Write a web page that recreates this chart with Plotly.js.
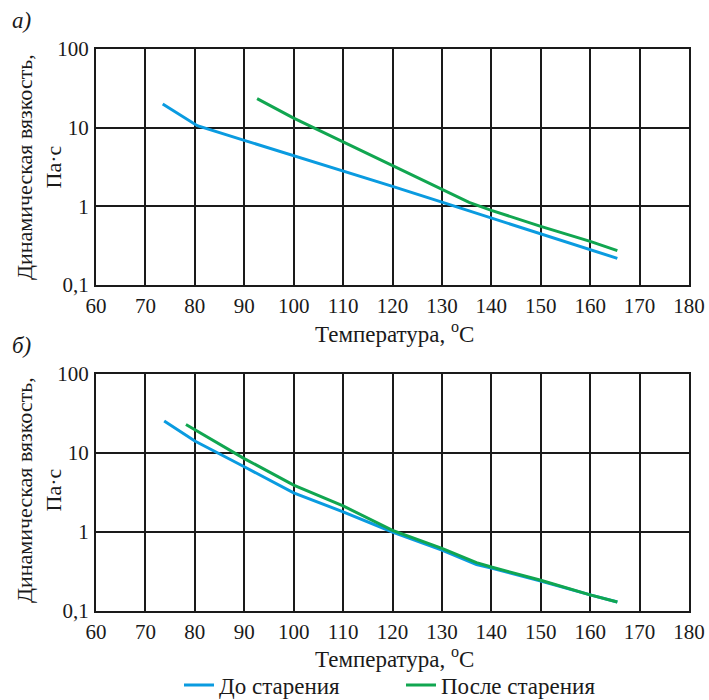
<!DOCTYPE html>
<html>
<head>
<meta charset="utf-8">
<script src="https://cdn.plot.ly/plotly-3.0.1.min.js"></script>
<style>html,body{margin:0;padding:0;background:#fff;}#chart{width:709px;height:700px;}</style>
</head>
<body>
<div id="chart"></div>
<script>
// Panel а)
const tempA_before = [73.5, 80.5, 90, 100, 110, 120, 130, 140, 150, 160, 165.5];
const viscA_before = [20, 10.6, 6.9, 4.4, 2.86, 1.79, 1.13, 0.71, 0.445, 0.281, 0.218];
const tempA_after = [92.6, 100, 104, 110, 120, 130, 135.5, 140, 150, 160, 165.5];
const viscA_after = [23.4, 13.2, 10, 6.6, 3.3, 1.63, 1.12, 0.89, 0.556, 0.359, 0.274];
// Panel б)
const tempB_before = [73.8, 80, 90, 100, 110, 120, 130, 137, 140, 150, 160, 165.5];
const viscB_before = [25.4, 14.2, 6.7, 3.13, 1.8, 1.0, 0.59, 0.387, 0.35, 0.24, 0.16, 0.13];
const tempB_after = [78.2, 90, 100, 110, 120, 130, 137, 140, 150, 160, 165.5];
const viscB_after = [23, 8.5, 3.92, 2.14, 1.05, 0.62, 0.41, 0.36, 0.245, 0.16, 0.13];

const seriesNames = ['До старения', 'После старения'];
const xTicks = [60, 70, 80, 90, 100, 110, 120, 130, 140, 150, 160, 170, 180];
const yTickVals = [0.1, 1, 10, 100];
const yTickText = ['0,1', '1', '10', '100'];
const xTitle = 'Температура, <sup>o</sup>C';
const yTitle = 'Динамическая вязкость,<br>Па·с';

const BLUE = '#0a9be0', GREEN = '#11a650';
const FONT = '"Liberation Serif", "Times New Roman", serif';
const TXT = 23, TICK = 21, YT = 22;

const traces = [
  {x: tempA_before, y: viscA_before, xaxis: 'x', yaxis: 'y', mode: 'lines', name: seriesNames[0], line: {color: BLUE, width: 3}, showlegend: true},
  {x: tempA_after, y: viscA_after, xaxis: 'x', yaxis: 'y', mode: 'lines', name: seriesNames[1], line: {color: GREEN, width: 3}, showlegend: true},
  {x: tempB_before, y: viscB_before, xaxis: 'x2', yaxis: 'y2', mode: 'lines', name: seriesNames[0], line: {color: BLUE, width: 3}, showlegend: false},
  {x: tempB_after, y: viscB_after, xaxis: 'x2', yaxis: 'y2', mode: 'lines', name: seriesNames[1], line: {color: GREEN, width: 3}, showlegend: false}
];

function xax(anchor) {
  return {
    anchor: anchor, range: [60, 180], tickvals: xTicks, ticks: '',
    showgrid: true, gridcolor: '#1a1a1a', gridwidth: 2,
    showline: true, linecolor: '#1a1a1a', linewidth: 2, mirror: true,
    zeroline: false, tickfont: {family: FONT, size: TICK, color: '#1a1a1a'}, ticklabelstandoff: 1
  };
}
function yax(anchor, domain) {
  return {
    anchor: anchor, domain: domain, type: 'log', range: [-1, 2],
    tickvals: yTickVals, ticktext: yTickText, ticks: '',
    showgrid: true, gridcolor: '#1a1a1a', gridwidth: 2,
    showline: true, linecolor: '#1a1a1a', linewidth: 2, mirror: true,
    zeroline: false, tickfont: {family: FONT, size: TICK, color: '#1a1a1a'}, ticklabelstandoff: 1
  };
}

const mL = 96, mR = 20, mT = 49, mB = 89;
const ph = 700 - mT - mB, pw = 709 - mL - mR;
const px2x = p => (p - mL) / pw;
const py2y = p => (700 - mB - p) / ph;

const layout = {
  width: 709, height: 700,
  margin: {l: mL, r: mR, t: mT, b: mB},
  paper_bgcolor: '#fff', plot_bgcolor: '#fff',
  font: {family: FONT, color: '#1a1a1a'},
  xaxis: xax('y'),
  yaxis: yax('x', [py2y(285), 1]),
  xaxis2: xax('y2'),
  yaxis2: yax('x2', [0, py2y(374)]),
  showlegend: true,
  legend: {
    orientation: 'h', xref: 'container', yref: 'container',
    x: 179 / 709, xanchor: 'left', y: 1 - 685 / 700, yanchor: 'middle',
    font: {family: FONT, size: TXT, color: '#1a1a1a'}, itemwidth: 30, entrywidth: 177, entrywidthmode: 'pixels',
    bgcolor: 'rgba(0,0,0,0)', tracegroupgap: 0
  },
  annotations: [
    {text: xTitle, xref: 'paper', yref: 'paper', x: px2x(394), y: py2y(332), xanchor: 'center', yanchor: 'middle', showarrow: false, font: {family: FONT, size: TXT}},
    {text: xTitle, xref: 'paper', yref: 'paper', x: px2x(394), y: py2y(658), xanchor: 'center', yanchor: 'middle', showarrow: false, font: {family: FONT, size: TXT}},
    {text: yTitle, xref: 'paper', yref: 'paper', x: px2x(39), y: py2y(167), xanchor: 'center', yanchor: 'middle', textangle: -90, showarrow: false, font: {family: FONT, size: YT}},
    {text: yTitle, xref: 'paper', yref: 'paper', x: px2x(39), y: py2y(490), xanchor: 'center', yanchor: 'middle', textangle: -90, showarrow: false, font: {family: FONT, size: YT}},
    {text: '<i>а)</i>', xref: 'paper', yref: 'paper', x: px2x(10), y: py2y(21), xanchor: 'left', yanchor: 'middle', showarrow: false, font: {family: FONT, size: TXT}},
    {text: '<i>б)</i>', xref: 'paper', yref: 'paper', x: px2x(10), y: py2y(345), xanchor: 'left', yanchor: 'middle', showarrow: false, font: {family: FONT, size: TXT}}
  ]
};

Plotly.newPlot('chart', traces, layout, {displayModeBar: false, staticPlot: true});
</script>
</body>
</html>
